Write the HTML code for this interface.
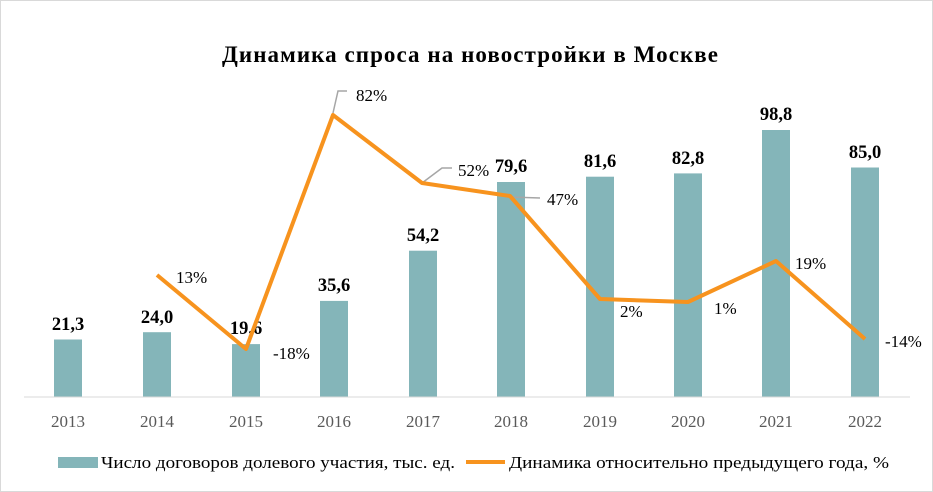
<!DOCTYPE html>
<html><head><meta charset="utf-8"><style>
body{margin:0;background:#fff}
svg{display:block;font-family:"Liberation Serif",serif}
</style></head><body>
<svg width="933" height="492" viewBox="0 0 933 492">
<rect x="0.5" y="0.5" width="932" height="491" fill="#fff" stroke="#d9d9d9"/>
<text x="222" y="62" font-size="23" font-weight="bold" textLength="496" lengthAdjust="spacing">Динамика  спроса на новостройки  в Москве</text>
<g fill="#84b5b9">
<rect x="54" y="339.5" width="28" height="57.5"/>
<rect x="143" y="332.2" width="28" height="64.8"/>
<rect x="232" y="344.1" width="28" height="52.9"/>
<rect x="320" y="300.9" width="28" height="96.1"/>
<rect x="409" y="250.7" width="28" height="146.3"/>
<rect x="497" y="182" width="28" height="215"/>
<rect x="586" y="176.7" width="28" height="220.3"/>
<rect x="674" y="173.4" width="28" height="223.6"/>
<rect x="762" y="130" width="28" height="267"/>
<rect x="851" y="167.5" width="28" height="229.5"/>
</g>
<line x1="24" y1="397" x2="910" y2="397" stroke="#d9d9d9"/>
<g font-size="18.5" font-weight="bold" text-anchor="middle">
<text x="68" y="330">21,3</text><text x="157" y="323">24,0</text><text x="246" y="334">19,6</text>
<text x="334" y="291">35,6</text><text x="423" y="241">54,2</text><text x="511" y="172">79,6</text>
<text x="600" y="167">81,6</text><text x="688" y="164">82,8</text><text x="776" y="120">98,8</text>
<text x="865" y="158">85,0</text>
</g>
<g stroke="#a6a6a6" stroke-width="1.5" fill="none">
<polyline points="333,113 338,91 347,91"/>
<polyline points="422,183 442,168 452,168"/>
<polyline points="510,197 540,198"/>
</g>
<polyline points="157,275 246,349 333,115 422,183 510,196 600,299 688,302 776,261 865,339" fill="none" stroke="#f7931e" stroke-width="4" stroke-linejoin="round"/>
<g font-size="17">
<text x="176" y="283">13%</text><text x="273" y="359">-18%</text><text x="356" y="101">82%</text>
<text x="458" y="176">52%</text><text x="547" y="205">47%</text><text x="620" y="317">2%</text>
<text x="714" y="314">1%</text><text x="795" y="269">19%</text><text x="885" y="347">-14%</text>
</g>
<g font-size="17" fill="#595959" text-anchor="middle">
<text x="68" y="427">2013</text><text x="157" y="427">2014</text><text x="246" y="427">2015</text>
<text x="334" y="427">2016</text><text x="423" y="427">2017</text><text x="511" y="427">2018</text>
<text x="600" y="427">2019</text><text x="688" y="427">2020</text><text x="776" y="427">2021</text>
<text x="865" y="427">2022</text>
</g>
<rect x="58" y="457" width="40" height="11" fill="#84b5b9"/>
<text x="101" y="468" font-size="17" textLength="354" lengthAdjust="spacingAndGlyphs">Число договоров долевого участия, тыс. ед.</text>
<line x1="466" y1="462" x2="505" y2="462" stroke="#f7931e" stroke-width="4"/>
<text x="509" y="468" font-size="17" textLength="380" lengthAdjust="spacingAndGlyphs">Динамика относительно предыдущего года, %</text>
</svg>
</body></html>
